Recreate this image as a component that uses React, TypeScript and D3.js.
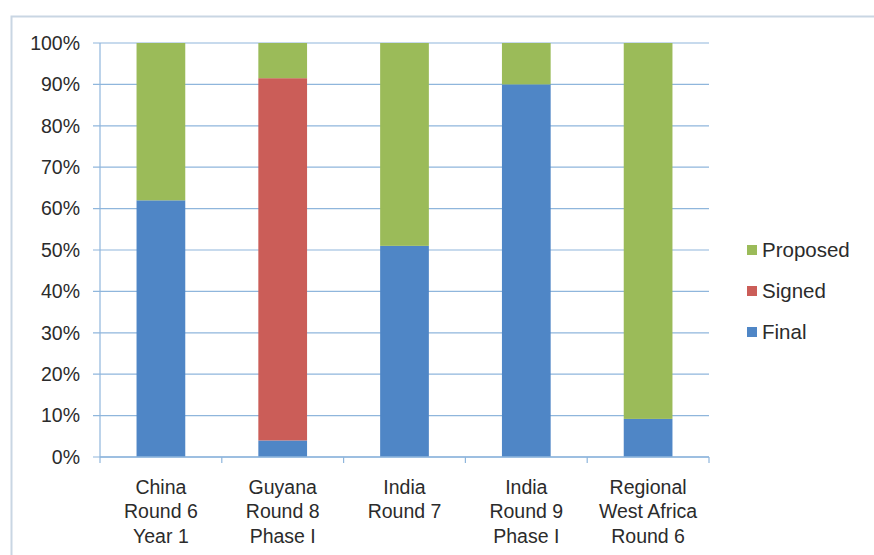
import { useEffect, useRef } from 'react';
import * as d3 from 'd3';

const categories = [
  ['China', 'Round 6', 'Year 1'],
  ['Guyana', 'Round 8', 'Phase I'],
  ['India', 'Round 7'],
  ['India', 'Round 9', 'Phase I'],
  ['Regional', 'West Africa', 'Round 6'],
];
const seriesNames = ['Final', 'Signed', 'Proposed'];
const finalValues = [62, 4, 51, 90, 9.2];
const signedValues = [0, 87.5, 0, 0, 0];
const proposedValues = [38, 8.5, 49, 10, 90.8];
const yTicks = [0, 10, 20, 30, 40, 50, 60, 70, 80, 90, 100];
const colors = ['#4F86C6', '#CB5D58', '#9BBB59'];

const W = 874;
const H = 555;
const margin = { top: 43, right: 165, bottom: 98, left: 100 };

export default function App() {
  const svgRef = useRef<SVGSVGElement>(null);

  useEffect(() => {
    if (!svgRef.current) return;
    const svg = d3.select(svgRef.current);
    svg.selectAll('*').remove();

    const font = '"Liberation Sans", Arial, sans-serif';
    const x0 = margin.left;
    const x1 = W - margin.right;
    const yBottom = H - margin.bottom;

    const rows = categories.map((c, i) => ({
      key: c.join(' '),
      Final: finalValues[i],
      Signed: signedValues[i],
      Proposed: proposedValues[i],
    }));

    const x = d3.scaleBand<string>()
      .domain(rows.map((r) => r.key))
      .range([x0, x1])
      .paddingInner(0.6)
      .paddingOuter(0.3);

    const y = d3.scaleLinear().domain([0, 100]).range([yBottom, margin.top]);

    // chart frame
    svg.append('path')
      .attr('d', `M11.5,${H} V16.5 H${W}`)
      .attr('fill', 'none')
      .attr('stroke', '#c9d6e3')
      .attr('stroke-width', 2);

    // gridlines
    svg.append('g')
      .selectAll('line')
      .data(yTicks)
      .join('line')
      .attr('x1', x0 - 7)
      .attr('x2', x1)
      .attr('y1', (d) => y(d))
      .attr('y2', (d) => y(d))
      .attr('stroke', '#8fb6dc')
      .attr('stroke-width', 1.2);

    // y axis line
    svg.append('line')
      .attr('x1', x0).attr('x2', x0)
      .attr('y1', margin.top).attr('y2', yBottom)
      .attr('stroke', '#8fb6dc')
      .attr('stroke-width', 1.2);

    // y tick labels
    svg.append('g')
      .selectAll('text')
      .data(yTicks)
      .join('text')
      .attr('x', x0 - 20)
      .attr('y', (d) => y(d))
      .attr('dy', '0.35em')
      .attr('text-anchor', 'end')
      .attr('font-family', font)
      .attr('font-size', 19.5)
      .attr('fill', '#2b2b2b')
      .text((d) => `${d}%`);

    // stacked bars
    const stack = d3.stack<any>().keys(seriesNames);
    const layers = stack(rows);

    svg.append('g')
      .selectAll('g')
      .data(layers)
      .join('g')
      .attr('fill', (_, i) => colors[i])
      .selectAll('rect')
      .data((d) => d.filter((p) => p[1] - p[0] > 0))
      .join('rect')
      .attr('x', (d) => x(d.data.key)!)
      .attr('width', x.bandwidth())
      .attr('y', (d) => y(d[1]))
      .attr('height', (d) => y(d[0]) - y(d[1]));

    // x axis line + ticks at category boundaries
    svg.append('line')
      .attr('x1', x0).attr('x2', x1)
      .attr('y1', yBottom).attr('y2', yBottom)
      .attr('stroke', '#8fb6dc')
      .attr('stroke-width', 1.5);

    const step = x.step();
    const bounds = d3.range(rows.length + 1).map((i) => x0 + i * step);
    svg.append('g')
      .selectAll('line')
      .data(bounds)
      .join('line')
      .attr('x1', (d) => d).attr('x2', (d) => d)
      .attr('y1', yBottom).attr('y2', yBottom + 6)
      .attr('stroke', '#8fb6dc')
      .attr('stroke-width', 1.2);

    // x labels
    const xl = svg.append('g')
      .selectAll('text')
      .data(categories)
      .join('text')
      .attr('text-anchor', 'middle')
      .attr('font-family', font)
      .attr('font-size', 19.5)
      .attr('fill', '#2b2b2b')
      .attr('x', (_, i) => x(rows[i].key)! + x.bandwidth() / 2);
    xl.selectAll('tspan')
      .data((d) => d)
      .join('tspan')
      .attr('x', function () {
        return (this.parentNode as SVGTextElement).getAttribute('x');
      })
      .attr('y', (_, j) => yBottom + 37 + j * 24.3)
      .text((d) => d);

    // legend
    const legendOrder = ['Proposed', 'Signed', 'Final'];
    const lg = svg.append('g')
      .selectAll('g')
      .data(legendOrder)
      .join('g')
      .attr('transform', (_, i) => `translate(747,${250 + i * 41})`);
    lg.append('rect')
      .attr('x', 0).attr('y', -5)
      .attr('width', 10).attr('height', 10)
      .attr('fill', (d) => colors[seriesNames.indexOf(d)]);
    lg.append('text')
      .attr('x', 15)
      .attr('dy', '0.35em')
      .attr('font-family', font)
      .attr('font-size', 20.5)
      .attr('fill', '#2b2b2b')
      .text((d) => d);
  }, []);

  return (
    <div style={{ position: 'absolute', left: 0, top: 0, width: W, height: H, background: '#fff' }}>
      <svg ref={svgRef} width={W} height={H}></svg>
    </div>
  );
}
